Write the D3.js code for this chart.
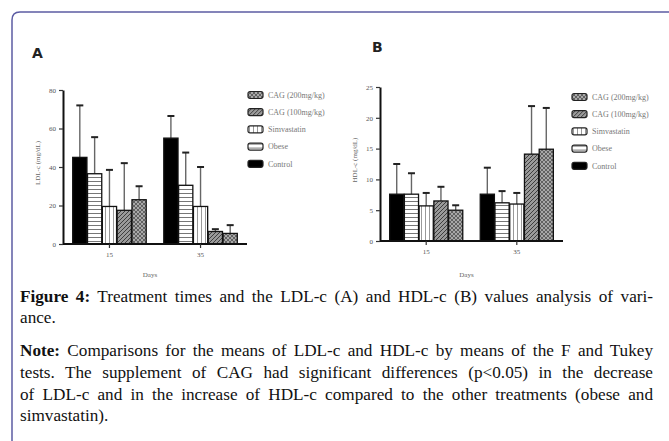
<!DOCTYPE html>
<html>
<head>
<meta charset="utf-8">
<script src="https://cdn.jsdelivr.net/npm/d3@7"></script>
<style>
  body { margin: 0; background: #fff; }
  #wrap { position: relative; width: 669px; height: 441px; overflow: hidden; }
  svg { position: absolute; left: 0; top: 0; }
  .cap { position: absolute; left: 20px; width: 633px; font-family: "Liberation Serif", "DejaVu Serif", serif;
         font-size: 17.2px; line-height: 20px; color: #111; white-space: nowrap; }
  .just { text-align: justify; text-align-last: justify; white-space: normal; }
</style>
</head>
<body>
<div id="wrap"></div>
<script>
const days = ['15', '35'];
const series = ['Control', 'Obese', 'Simvastatin', 'CAG (100mg/kg)', 'CAG (200mg/kg)'];
const legendOrder = ['CAG (200mg/kg)', 'CAG (100mg/kg)', 'Simvastatin', 'Obese', 'Control'];

// LDL-c (A): mean and upper error per series, [day15, day35]
const ldlMean = [[45, 55], [36.5, 30.5], [19.5, 19.5], [17.5, 6.5], [23, 5.5]];
const ldlErr = [[27, 11.5], [19, 17], [19, 20.5], [24.5, 1.2], [7, 4.3]];
const ldlTicks = [0, 20, 40, 60, 80];

// HDL-c (B)
const hdlMean = [[7.6, 7.6], [7.6, 6.2], [5.7, 6.0], [6.5, 14.1], [5.0, 14.9]];
const hdlErr = [[4.9, 4.3], [3.4, 1.9], [2.1, 1.8], [2.3, 7.8], [0.8, 6.7]];
const hdlTicks = [0, 5, 10, 15, 20, 25];

const captionLines = [
  { b: 'Figure 4:', t: ' Treatment times and the LDL-c (A) and HDL-c (B) values analysis of vari-', just: true },
  { b: '', t: 'ance.', just: false },
  { b: 'Note:', t: ' Comparisons for the means of LDL-c and HDL-c by means of the F and Tukey', just: true },
  { b: '', t: 'tests. The supplement of CAG had significant differences (p<0.05) in the decrease', just: true },
  { b: '', t: 'of LDL-c and in the increase of HDL-c compared to the other treatments (obese and', just: true },
  { b: '', t: 'simvastatin).', just: false },
];
const captionTop = [287, 308, 341, 363, 385, 406];

const width = 669;
const height = 441;
const serif = '"Liberation Serif", "DejaVu Serif", serif';
const wrap = d3.select('#wrap');
const svg = wrap.append('svg').attr('width', width).attr('height', height);

// frame
svg.append('path')
  .attr('d', 'M12,441 V20 Q12,12 20,12 H669')
  .attr('fill', 'none')
  .attr('stroke', '#5c5ca3')
  .attr('stroke-width', 1.5);

// patterns
const defs = svg.append('defs');
function pattern(id, bg, draw) {
  const p = defs.append('pattern').attr('id', id)
    .attr('patternUnits', 'userSpaceOnUse').attr('width', 4).attr('height', 4);
  p.append('rect').attr('width', 4).attr('height', 4).attr('fill', bg);
  draw(p);
}
pattern('p-obese', '#fff', (p) => p.append('path').attr('d', 'M0,1.5 H4').attr('stroke', '#777').attr('stroke-width', 1));
pattern('p-simva', '#fff', (p) => p.append('path').attr('d', 'M1.5,0 V4').attr('stroke', '#999').attr('stroke-width', 1));
pattern('p-cag100', '#9a9a9a', (p) => p.append('path').attr('d', 'M-1,1 L1,-1 M0,4 L4,0 M3,5 L5,3').attr('stroke', '#333').attr('stroke-width', 0.9));
pattern('p-cag200', '#a8a8a8', (p) => p.append('path').attr('d', 'M-1,1 L1,-1 M0,4 L4,0 M3,5 L5,3 M0,0 L4,4').attr('stroke', '#444').attr('stroke-width', 0.7));
const fills = ['#000', 'url(#p-obese)', 'url(#p-simva)', 'url(#p-cag100)', 'url(#p-cag200)'];

function drawPanel(o) {
  const g = svg.append('g');
  const y = d3.scaleLinear().domain(o.domain).range([o.y0, o.y1]);
  const x0 = d3.scaleBand().domain(days).range([o.xL, o.xR]).paddingInner(0.18).paddingOuter(0.1);
  const x1 = d3.scaleBand().domain(series).range([0, x0.bandwidth()]).padding(0.04);

  const rows = [];
  series.forEach((s, i) => days.forEach((d, j) => rows.push({ s, i, d, v: o.mean[i][j], e: o.err[i][j] })));

  // error bars (behind bars)
  const eb = g.append('g');
  rows.forEach((r) => {
    const cx = x0(r.d) + x1(r.s) + x1.bandwidth() / 2;
    eb.append('line').attr('x1', cx).attr('x2', cx).attr('y1', y(r.v)).attr('y2', y(r.v + r.e))
      .attr('stroke', '#666').attr('stroke-width', 1.4);
    eb.append('line').attr('x1', cx - 3.5).attr('x2', cx + 3.5).attr('y1', y(r.v + r.e)).attr('y2', y(r.v + r.e))
      .attr('stroke', '#222').attr('stroke-width', 2);
  });

  g.append('g').selectAll('rect').data(rows).join('rect')
    .attr('x', (r) => x0(r.d) + x1(r.s))
    .attr('y', (r) => y(r.v))
    .attr('width', x1.bandwidth())
    .attr('height', (r) => y(0) - y(r.v))
    .attr('fill', (r) => fills[r.i])
    .attr('stroke', '#111')
    .attr('stroke-width', 1.3);

  // axes
  const ya = g.append('g').attr('transform', `translate(${o.xL},0)`)
    .call(d3.axisLeft(y).tickValues(o.ticks).tickSize(4).tickSizeOuter(0));
  const xa = g.append('g').attr('transform', `translate(0,${o.y0})`)
    .call(d3.axisBottom(x0).tickSize(4).tickSizeOuter(0));
  [ya, xa].forEach((a) => {
    a.select('.domain').attr('stroke', '#111').attr('stroke-width', 2);
    a.selectAll('.tick line').attr('stroke', '#333').attr('stroke-width', 1.2);
    a.selectAll('.tick text').attr('font-family', serif).attr('font-size', 7).attr('fill', '#555');
  });
  xa.select('.domain').attr('d', `M${o.xL},0H${o.xR}`);
  xa.selectAll('.tick text').attr('dy', '0.9em');

  g.append('text').attr('x', o.labelX).attr('y', o.labelY).text(o.letter)
    .attr('font-family', 'DejaVu Sans').attr('font-weight', 'bold').attr('font-size', 14).attr('fill', '#222');
  g.append('text').attr('transform', `translate(${o.ytX},${(o.y0 + o.y1) / 2 - 4}) rotate(-90)`)
    .attr('text-anchor', 'middle').text(o.ytitle)
    .attr('font-family', serif).attr('font-size', 7).attr('fill', '#666');
  g.append('text').attr('x', (o.xL + o.xR) / 2 - 5).attr('y', 277).attr('text-anchor', 'middle').text('Days')
    .attr('font-family', serif).attr('font-size', 7).attr('fill', '#666');

  // legend
  const lg = g.append('g').attr('transform', `translate(${o.legX},${o.legY})`);
  legendOrder.forEach((s, k) => {
    const i = series.indexOf(s);
    const row = lg.append('g').attr('transform', `translate(0,${k * 17.2})`);
    row.append('rect').attr('x', 0).attr('y', -3.5).attr('width', 15).attr('height', 7).attr('rx', 2)
      .attr('fill', fills[i]).attr('stroke', '#222').attr('stroke-width', 1.2);
    row.append('text').attr('x', 20).attr('y', 0).attr('dy', '0.35em').text(s)
      .attr('font-family', serif).attr('font-size', 8).attr('fill', '#777');
  });
}

drawPanel({
  domain: [0, 80], y0: 244, y1: 90, xL: 63, xR: 247, ticks: ldlTicks,
  mean: ldlMean, err: ldlErr, letter: 'A', labelX: 32, labelY: 58,
  ytitle: 'LDL-c (mg/dL)', ytX: 40, legX: 248, legY: 95,
});
drawPanel({
  domain: [0, 25], y0: 241, y1: 87, xL: 380, xR: 563, ticks: hdlTicks,
  mean: hdlMean, err: hdlErr, letter: 'B', labelX: 372, labelY: 52,
  ytitle: 'HDL-c (mg/dL)', ytX: 357, legX: 572, legY: 97,
});

// caption
captionLines.forEach((l, k) => {
  const div = wrap.append('div').attr('class', 'cap' + (l.just ? ' just' : '')).style('top', captionTop[k] + 'px');
  if (l.b) div.append('b').text(l.b);
  div.append('span').text(l.t);
});
</script>
</body>
</html>
